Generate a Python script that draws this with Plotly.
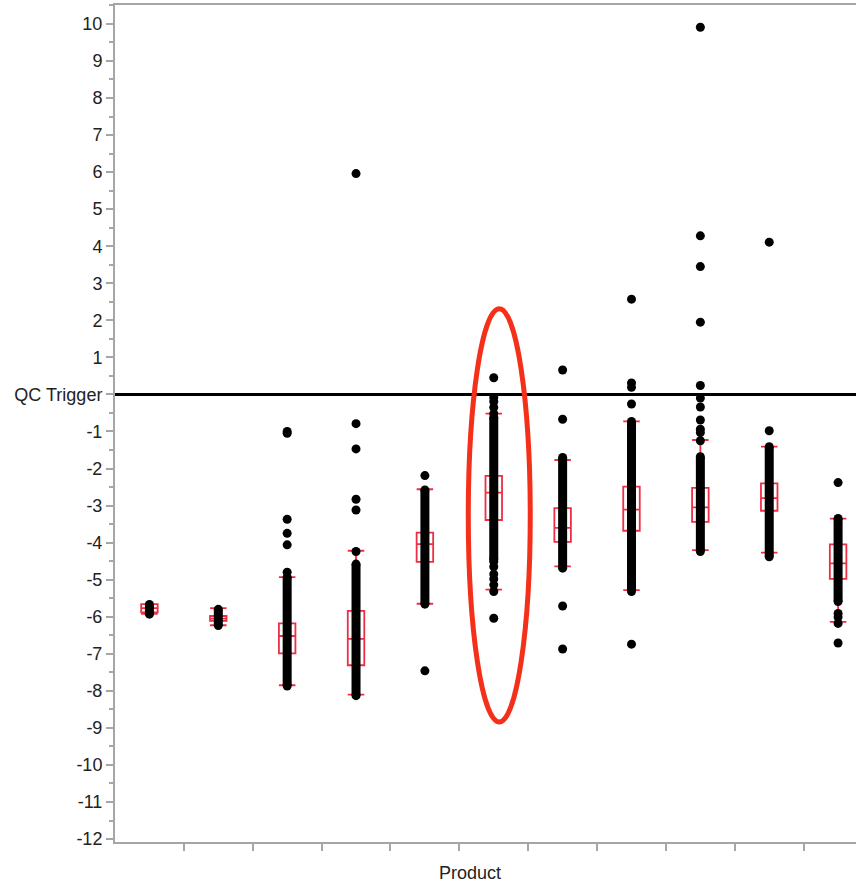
import plotly.graph_objects as go

# Product positions along the x axis (11 products, no labels shown)
products = list(range(11))

# Box statistics per product
q1 = [-5.88, -6.11, -6.99, -7.31, -4.52, -3.39, -3.98, -3.68, -3.44, -3.14, -4.98]
median = [-5.77, -6.05, -6.52, -6.60, -4.04, -2.65, -3.60, -3.11, -3.05, -2.80, -4.56]
q3 = [-5.66, -5.98, -6.18, -5.84, -3.73, -2.20, -3.07, -2.49, -2.52, -2.40, -4.05]
whisker_lo = [-5.92, -6.23, -7.85, -8.10, -5.65, -5.27, -4.64, -5.28, -4.20, -4.27, -6.14]
whisker_hi = [-5.66, -5.77, -4.93, -4.22, -2.56, -0.52, -1.77, -0.73, -1.23, -1.41, -3.35]

# Span of the densely packed observations for each product
dense_lo = [-5.93, -6.24, -7.87, -8.13, -5.66, -4.45, -4.69, -5.32, -4.24, -4.38, -5.59]
dense_hi = [-5.67, -5.80, -4.93, -4.58, -2.58, -0.62, -1.70, -0.73, -1.68, -1.41, -3.35]

# Individually visible observations per product
sparse_points = [
    [],
    [],
    [-1.00, -1.05, -3.37, -3.75, -4.06, -4.80],
    [5.96, -0.79, -1.47, -2.83, -3.12, -4.24],
    [-2.19, -7.46],
    [0.45, -0.08, -0.19, -0.35, -0.52, -4.51, -4.65, -4.85, -4.98, -5.14, -5.32, -6.04],
    [0.66, -0.67, -5.71, -6.87],
    [2.57, 0.31, 0.19, -0.26, -6.74],
    [9.91, 4.28, 3.45, 1.95, 0.24, -0.10, -0.34, -0.69, -0.94, -1.03, -1.25],
    [4.11, -0.98],
    [-2.38, -5.91, -6.01, -6.18, -6.71],
]

# Y axis ticks; the zero line is the QC trigger
y_ticks = list(range(-12, 11))
y_ticktext = ["QC Trigger" if v == 0 else str(v) for v in y_ticks]
qc_trigger = 0

# Highlight ellipse extent (data units)
highlight_x = (4.63, 5.53)
highlight_y = (-8.84, 2.31)

AXIS_GREY = "#a6a6a6"
BOX_RED = "#ec2f45"
FONT = "Liberation Sans, Arial, sans-serif"

fig = go.Figure()

# Dense runs of points drawn as solid columns
col_x, col_y = [], []
end_x, end_y = [], []
for p, lo, hi in zip(products, dense_lo, dense_hi):
    col_x += [p, p, None]
    col_y += [lo, hi, None]
    end_x += [p, p]
    end_y += [lo, hi]
fig.add_trace(go.Scatter(x=col_x, y=col_y, mode="lines",
                         line=dict(color="black", width=9),
                         hoverinfo="skip", showlegend=False))

pt_x, pt_y = list(end_x), list(end_y)
for p, vals in zip(products, sparse_points):
    pt_x += [p] * len(vals)
    pt_y += vals
fig.add_trace(go.Scatter(x=pt_x, y=pt_y, mode="markers",
                         marker=dict(color="black", size=9, line=dict(width=0)),
                         showlegend=False))

# Quantile boxes with whisker caps
fig.add_trace(go.Box(x=products, q1=q1, median=median, q3=q3,
                     lowerfence=whisker_lo, upperfence=whisker_hi,
                     width=0.24, whiskerwidth=1.0,
                     line=dict(color=BOX_RED, width=1.8),
                     fillcolor="rgba(0,0,0,0)", boxpoints=False,
                     showlegend=False))

# QC trigger line
fig.add_shape(type="line", xref="paper", x0=0, x1=1, yref="y",
              y0=qc_trigger, y1=qc_trigger,
              line=dict(color="black", width=3), layer="above")

# Highlight ellipse
fig.add_shape(type="circle", xref="x", yref="y",
              x0=highlight_x[0], x1=highlight_x[1],
              y0=highlight_y[0], y1=highlight_y[1],
              line=dict(color="#f5301a", width=5), layer="above")

fig.add_annotation(text="Product", xref="paper", yref="paper",
                   x=0.479, y=-0.037, xanchor="center", yanchor="middle",
                   showarrow=False, font=dict(family=FONT, size=18, color="#222222"))

fig.update_layout(
    width=856, height=883,
    margin=dict(l=115, r=0, t=5, b=41),
    paper_bgcolor="white", plot_bgcolor="white",
    font=dict(family=FONT, size=18, color="#222222"),
    showlegend=False,
    xaxis=dict(range=[-0.5, 10.26], tickvals=[i + 0.5 for i in range(10)],
               ticktext=[""] * 10, ticks="outside", ticklen=7, tickwidth=1.5,
               tickcolor=AXIS_GREY, showline=True, linecolor=AXIS_GREY,
               linewidth=2, mirror=True, showgrid=False, zeroline=False),
    yaxis=dict(range=[-12.08, 10.51], tickvals=y_ticks, ticktext=y_ticktext,
               ticks="outside", ticklen=7, tickwidth=1.5, tickcolor=AXIS_GREY,
               showline=True, linecolor=AXIS_GREY, linewidth=2,
               showgrid=False, zeroline=False,
               minor=dict(ticks="outside", ticklen=4, tickwidth=1.5,
                          tickcolor=AXIS_GREY, dtick=0.5, tick0=0, showgrid=False),
               tickfont=dict(family=FONT, size=18, color="#222222")),
)

fig.write_html("out.html")
